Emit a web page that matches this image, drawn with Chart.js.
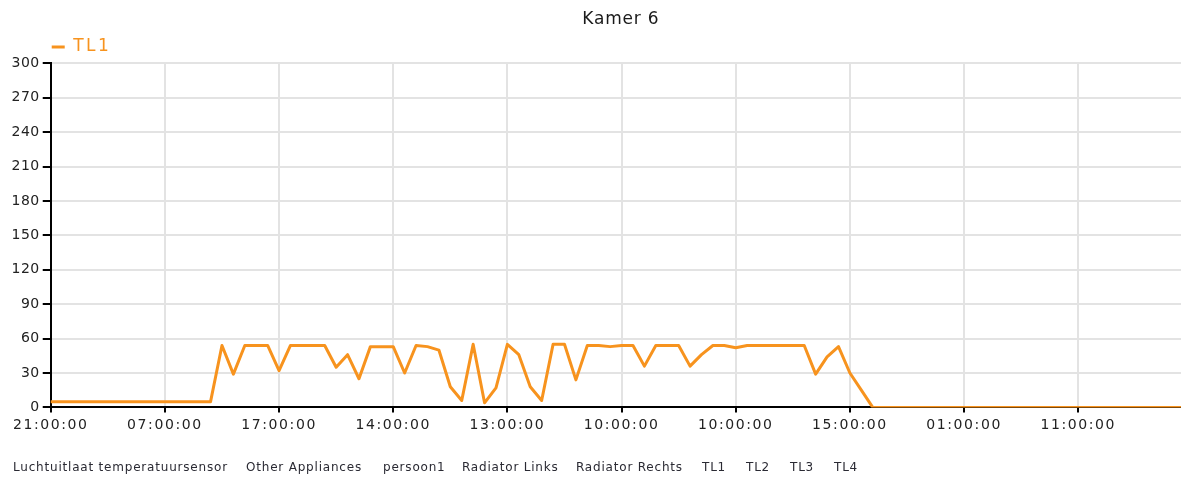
<!DOCTYPE html>
<html>
<head>
<meta charset="utf-8">
<title>Kamer 6</title>
<script src="https://cdn.jsdelivr.net/npm/chart.js@4.4.1/dist/chart.umd.min.js"></script>
<style>
  html, body { margin: 0; padding: 0; background: #fff; }
  #kader { position: relative; width: 1181px; height: 478px; overflow: hidden; }
  #kader canvas { position: absolute; left: 0; top: 0; }
  #sensoren { position: absolute; left: 0; top: 460px; width: 1181px; height: 16px;
              font: 12px 'DejaVu Sans', Verdana, sans-serif; line-height: 14px;
              color: #2a2a33; letter-spacing: 0.8px; }
  #sensoren span { position: absolute; top: 0; white-space: nowrap; }
</style>
</head>
<body>
<div id="kader">
  <canvas id="grafKamer6" width="1181" height="478"></canvas>
  <div id="sensoren">
    <span style="left:13px">Luchtuitlaat temperatuursensor</span>
    <span style="left:246px">Other Appliances</span>
    <span style="left:383px">persoon1</span>
    <span style="left:462px">Radiator Links</span>
    <span style="left:576px">Radiator Rechts</span>
    <span style="left:702px">TL1</span>
    <span style="left:746px">TL2</span>
    <span style="left:790px">TL3</span>
    <span style="left:834px">TL4</span>
  </div>
</div>
<script>
// tijdstippen onder de x-as (elke 10e meting)
var tijdLabels = ["21:00:00", "07:00:00", "17:00:00", "14:00:00", "13:00:00",
                  "10:00:00", "10:00:00", "15:00:00", "01:00:00", "11:00:00"];

// metingen TL1 (100 punten)
var tl1Waarden = [5, 5, 5, 5, 5, 5, 5, 5, 5, 5,
                  5, 5, 5, 5, 5, 54, 29, 54, 54, 54,
                  32, 54, 54, 54, 54, 35, 46, 25, 53, 53,
                  53, 30, 54, 53, 50, 18, 6, 55, 4, 17,
                  55, 46, 18, 6, 55, 55, 24, 54, 54, 53,
                  54, 54, 36, 54, 54, 54, 36, 46, 54, 54,
                  52, 54, 54, 54, 54, 54, 54, 29, 44, 53,
                  30, 15, 0, 0, 0, 0, 0, 0, 0, 0,
                  0, 0, 0, 0, 0, 0, 0, 0, 0, 0,
                  0, 0, 0, 0, 0, 0, 0, 0, 0, 0];

var categorieen = tl1Waarden.map(function(v, i) {
    return i % 10 === 0 ? tijdLabels[i / 10] : '';
});

var ORANJE = '#F7931E';

//letterafstand per onderdeel zetten (canvas kent geen css letter-spacing)
function zetAfstand(obj, methode, afstand) {
    if (!obj || obj['_' + methode + 'Gewikkeld']) return;
    var origineel = obj[methode];
    obj[methode] = function() {
        var ctx = this.ctx;
        var oud = ctx.letterSpacing;
        ctx.letterSpacing = afstand;
        origineel.apply(this, arguments);
        ctx.letterSpacing = oud;
    };
    obj['_' + methode + 'Gewikkeld'] = true;
}

var opmaakPlugin = {
    id: 'opmaak',
    afterUpdate: function(chart) {
        zetAfstand(chart.titleBlock, 'draw', '0.8px');
        zetAfstand(chart.legend, 'draw', '2.5px');
        zetAfstand(chart.scales.x, 'drawLabels', '1.6px');
        zetAfstand(chart.scales.y, 'drawLabels', '0.5px');
    },
    beforeDraw: function(chart) {
        // titel boven het grafiekvlak centreren, legenda bij de y-as laten starten
        chart.titleBlock.left = chart.chartArea.left + 10;
        if (!chart.legend._verschoven) {
            chart.legend.left = chart.chartArea.left + 1 - chart.options.plugins.legend.labels.padding;
            chart.legend.top += 2;
            chart.legend._verschoven = true;
        }
    }
};

function dibujarGrafiekKamer6() {
    Chart.defaults.font.family = "'DejaVu Sans', Verdana, sans-serif";
    Chart.defaults.color = '#222';

    var ctx = document.getElementById('grafKamer6');
    new Chart(ctx, {
        type: 'line',
        data: {
            labels: categorieen,
            datasets: [{
                label: 'TL1',
                data: tl1Waarden,
                borderColor: ORANJE,
                backgroundColor: ORANJE,
                borderWidth: 3,
                borderJoinStyle: 'round',
                pointRadius: 0,
                tension: 0,
                fill: false
            }]
        },
        options: {
            responsive: false,
            animation: false,
            layout: { padding: { left: 10, right: 0, top: 0, bottom: 39 } },
            plugins: {
                title: {
                    display: true,
                    text: 'Kamer 6',
                    color: '#1a1a1a',
                    font: { size: 17, weight: 'normal' },
                    padding: { top: 9.5, bottom: 1.5 }
                },
                legend: {
                    position: 'top',
                    align: 'start',
                    labels: {
                        color: ORANJE,
                        font: { size: 17 },
                        usePointStyle: true,
                        pointStyle: 'line',
                        pointStyleWidth: 13,
                        padding: 5
                    }
                },
                tooltip: { enabled: false }
            },
            scales: {
                x: {
                    offset: false,
                    border: { color: '#000', width: 2 },
                    grid: {
                        color: function(c) { return c.index % 10 === 0 ? '#e3e3e3' : 'rgba(0,0,0,0)'; },
                        tickColor: function(c) { return c.index % 10 === 0 ? '#000' : 'rgba(0,0,0,0)'; },
                        lineWidth: 2,
                        tickWidth: 2,
                        tickLength: 5
                    },
                    ticks: {
                        autoSkip: false,
                        maxRotation: 0,
                        padding: 0,
                        color: '#222',
                        font: { size: 14, lineHeight: 1.9 }
                    }
                },
                y: {
                    min: 0,
                    max: 300,
                    border: { color: '#000', width: 2 },
                    grid: {
                        color: '#e3e3e3',
                        lineWidth: 2,
                        tickColor: '#000',
                        tickWidth: 2,
                        tickLength: 8
                    },
                    ticks: {
                        stepSize: 30,
                        padding: 3,
                        color: '#222',
                        font: { size: 14 }
                    }
                }
            }
        },
        plugins: [opmaakPlugin]
    });
}

dibujarGrafiekKamer6();
</script>
</body>
</html>
